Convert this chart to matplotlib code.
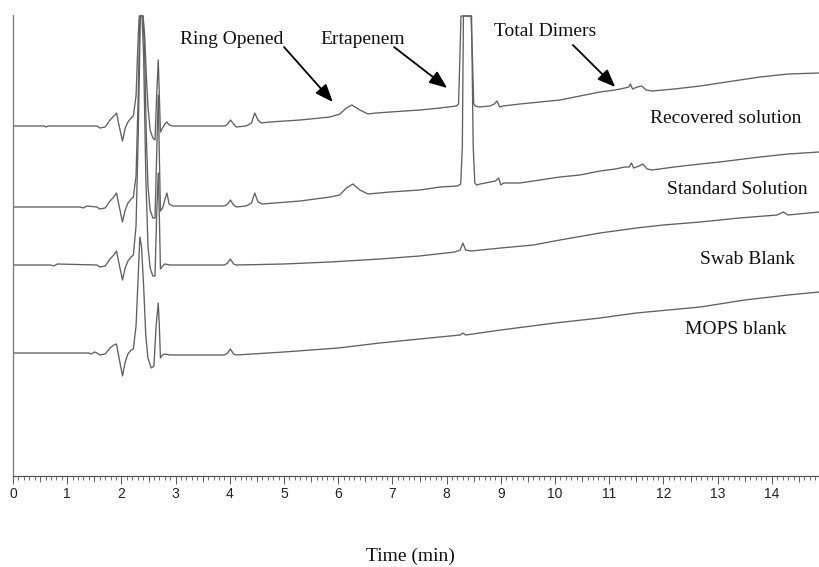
import matplotlib
matplotlib.use("Agg")
import matplotlib.pyplot as plt
from matplotlib.ticker import MultipleLocator, FixedLocator

# ---------------- data (time in min, detector signal in arbitrary units) ----------------
recovered_t = [0, 0.58, 0.61, 0.65, 1.55, 1.60, 1.70, 1.79, 1.86, 1.91, 1.95, 2.02, 2.07, 2.12, 2.18,
               2.22, 2.27, 2.31, 2.33, 2.40, 2.43, 2.46, 2.49, 2.53, 2.58, 2.62, 2.65, 2.68,
               2.70, 2.72, 2.76, 2.80, 2.84, 2.88, 2.95, 3.40, 3.91, 3.96, 4.01, 4.07, 4.12, 4.30,
               4.40, 4.46, 4.52, 4.58, 4.74, 5.30, 5.85, 6.03, 6.15, 6.25, 6.40, 6.55, 6.70, 6.96,
               7.51, 7.88, 8.18, 8.22, 8.245, 8.265, 8.45, 8.475, 8.50, 8.53, 8.60, 8.80, 8.88,
               8.93, 8.98, 9.04, 9.35, 10.09, 10.46, 10.83, 11.11, 11.29, 11.36, 11.39, 11.43,
               11.52, 11.60, 11.68, 11.79, 12.20, 12.68, 13.04, 13.78, 14.30, 14.87]
recovered_v = [350, 350, 349, 350, 350, 348, 349, 356, 360, 363, 352, 335, 348, 354, 358,
               360, 380, 440, 460, 460, 440, 400, 370, 346, 338, 336, 380, 416,
               380, 344, 348, 352, 354, 351, 350, 350, 350, 352, 356, 352, 349, 350,
               353, 363, 356, 353, 354, 356, 359, 362, 368, 371, 366, 362, 363, 364,
               366, 368, 370, 372, 420, 460, 460, 420, 372, 370, 369, 370, 372,
               375, 369, 370, 372, 376, 380, 384, 386, 388, 389, 392, 387,
               389, 390, 386, 385, 387, 390, 393, 399, 402, 403]

standard_t = [0, 1.24, 1.30, 1.36, 1.55, 1.60, 1.70, 1.79, 1.86, 1.91, 1.95, 2.02, 2.07, 2.12, 2.18,
              2.22, 2.27, 2.31, 2.34, 2.40, 2.43, 2.46, 2.49, 2.53, 2.58, 2.62, 2.65, 2.68,
              2.70, 2.72, 2.76, 2.80, 2.84, 2.88, 2.95, 3.90, 3.96, 4.01, 4.07, 4.12, 4.30, 4.40,
              4.46, 4.52, 4.60, 5.30, 5.85, 6.03, 6.15, 6.27, 6.40, 6.55, 6.96, 7.51, 7.88, 8.20,
              8.26, 8.29, 8.31, 8.46, 8.49, 8.52, 8.55, 8.62, 8.90, 8.96, 9.00, 9.05, 9.35,
              10.09, 10.46, 10.83, 11.11, 11.29, 11.37, 11.41, 11.45, 11.55, 11.62, 11.70, 11.79,
              12.20, 12.68, 13.04, 13.78, 14.30, 14.87]
standard_v = [269, 269, 268, 270, 269, 267, 268, 275, 279, 283, 272, 254, 266, 273, 277,
              279, 300, 380, 460, 460, 420, 340, 290, 266, 258, 258, 320, 381,
              320, 265, 268, 276, 283, 272, 270, 270, 272, 276, 271, 269, 270, 273,
              283, 274, 272, 275, 279, 281, 288, 292, 286, 282, 284, 286, 289, 290,
              292, 330, 460, 460, 330, 293, 291, 292, 295, 298, 291, 293, 293,
              299, 301, 305, 307, 309, 309, 313, 308, 310, 312, 307, 306,
              309, 312, 314, 319, 322, 324]

swab_t = [0, 0.70, 0.75, 0.82, 1.55, 1.60, 1.70, 1.79, 1.86, 1.91, 1.95, 2.02, 2.07, 2.12, 2.18,
          2.22, 2.27, 2.31, 2.35, 2.38, 2.41, 2.45, 2.49, 2.53, 2.58, 2.62, 2.65, 2.68, 2.70,
          2.72, 2.76, 2.80, 2.90, 3.90, 3.96, 4.01, 4.07, 4.12, 5.00, 5.85, 6.77, 7.50, 8.15,
          8.25, 8.30, 8.35, 8.45, 9.00, 9.60, 10.09, 10.83, 11.50, 12.00, 12.68, 13.40, 14.10,
          14.21, 14.30, 14.87]
swab_v = [211, 211, 210, 212, 211, 209, 210, 217, 221, 225, 214, 196, 208, 215, 219,
          221, 250, 340, 460, 460, 420, 300, 230, 208, 200, 200, 260, 303, 260,
          207, 210, 212, 211, 211, 213, 217, 212, 211, 212, 214, 217, 220, 224,
          226, 233, 226, 225, 228, 231, 236, 243, 248, 251, 254, 258, 261,
          264, 261, 264]

mops_t = [0, 1.40, 1.45, 1.50, 1.55, 1.60, 1.70, 1.79, 1.86, 1.91, 1.95, 2.02, 2.07, 2.12, 2.18,
          2.22, 2.27, 2.31, 2.34, 2.37, 2.41, 2.45, 2.49, 2.55, 2.60, 2.64, 2.68, 2.70, 2.72,
          2.76, 2.80, 2.90, 3.90, 3.96, 4.01, 4.07, 4.12, 5.00, 6.00, 6.77, 7.50, 8.25, 8.30,
          8.35, 9.00, 10.00, 10.83, 11.50, 12.68, 13.50, 14.30, 14.87]
mops_v = [123, 123, 122, 124, 123, 121, 122, 128, 131, 132, 120, 100, 114, 122, 126,
          127, 150, 200, 239, 230, 190, 140, 118, 108, 110, 150, 173, 150, 118,
          121, 122, 121, 121, 123, 127, 122, 121, 124, 128, 133, 137, 141, 143,
          141, 146, 153, 158, 163, 169, 176, 181, 184]

trace_names = ["Recovered solution", "Standard Solution", "Swab Blank", "MOPS blank"]
peak_names = ["Ring Opened", "Ertapenem", "Total Dimers"]
xtick_values = list(range(15))
xtick_labels = [str(v) for v in xtick_values]

# ---------------- figure ----------------
W, H = 819, 567
fig = plt.figure(figsize=(W / 100, H / 100), dpi=100)
fig.patch.set_facecolor("white")
ax = fig.add_axes([13 / W, 91 / H, 806 / W, 461 / H])

line_kw = dict(color="#606060", lw=0.95, solid_joinstyle="round")
for t, v in [(recovered_t, recovered_v), (standard_t, standard_v),
             (swab_t, swab_v), (mops_t, mops_v)]:
    ax.plot(t, v, **line_kw)

ax.set_xlim(0, 14.87)
ax.set_ylim(0, 461)

for s in ["top", "right"]:
    ax.spines[s].set_visible(False)
ax.spines["left"].set_color("#777777")
ax.spines["bottom"].set_color("#555555")
ax.spines["left"].set_linewidth(0.9)
ax.spines["bottom"].set_linewidth(0.9)
ax.set_yticks([])

ax.xaxis.set_major_locator(FixedLocator(xtick_values))
ax.set_xticklabels(xtick_labels, fontsize=10, family="Liberation Sans", color="#222222")
ax.xaxis.set_minor_locator(MultipleLocator(0.1))
ax.tick_params(axis="x", which="major", direction="out", length=5.5, width=0.7,
               color="#555555", pad=2.5)
ax.tick_params(axis="x", which="minor", direction="out", length=2.8, width=0.6,
               color="#555555")

# half-minute ticks (medium length)
sec = ax.secondary_xaxis(0)
sec.set_xticks([k + 0.5 for k in range(15)])
sec.set_xticklabels([])
sec.tick_params(axis="x", direction="out", length=4.2, width=0.6, color="#555555")
sec.spines["bottom"].set_visible(False)

serif = ["Liberation Serif", "DejaVu Serif"]
txt_kw = dict(fontsize=14, family=serif, color="#111111", ha="center", va="baseline")

def fpos(px, py):
    return px / W, 1 - py / H

# trace labels
for name, (px, py) in zip(trace_names, [(726, 123), (737, 194), (748, 264), (736, 334)]):
    fig.text(*fpos(px, py), name, **txt_kw)

# peak labels
label_pos = [(232, 44), (363, 44), (545, 36)]
for name, (px, py) in zip(peak_names, label_pos):
    fig.text(*fpos(px, py), name, **txt_kw)

# arrows (tail, tip) in data coords
arrows = [((5.00, 429), (5.90, 374)),
          ((7.03, 429), (8.01, 388)),
          ((10.33, 431), (11.11, 389))]
for (tail, tip) in arrows:
    ax.annotate("", xy=tip, xytext=tail, xycoords="data", textcoords="data",
                annotation_clip=False,
                arrowprops=dict(arrowstyle="-|>,head_length=0.9,head_width=0.36",
                                mutation_scale=12, lw=1.3, color="black",
                                shrinkA=0, shrinkB=0))

fig.text(*fpos(410, 561), "Time (min)", **txt_kw)

fig.savefig("out.png", dpi=100, facecolor="white")
